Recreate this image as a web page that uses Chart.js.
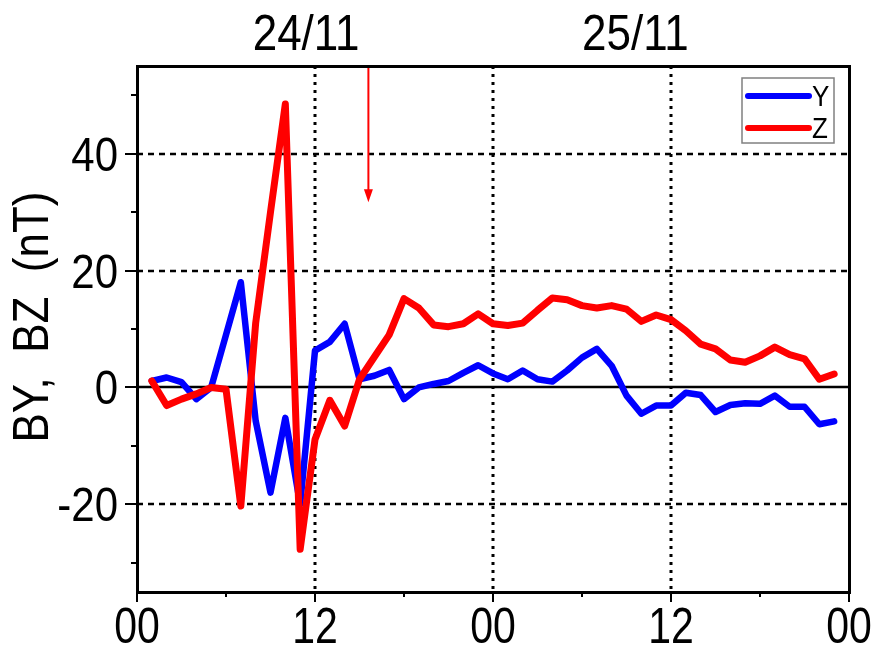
<!DOCTYPE html>
<html>
<head>
<meta charset="utf-8">
<script src="https://cdn.jsdelivr.net/npm/chart.js@4.4.1/dist/chart.umd.min.js"></script>
<style>
  html, body { margin: 0; padding: 0; background: #fff; }
  #wrap { width: 871px; height: 646px; }
</style>
</head>
<body>
<div id="wrap"><canvas id="chart" width="871" height="646"></canvas></div>
<script>
// hours since 00 UT on 24/11
const hours = [1, 2, 3, 4, 5, 6, 7, 8, 9, 10, 11, 12, 13, 14, 15, 16, 17, 18, 19, 20, 21, 22, 23, 24,
               25, 26, 27, 28, 29, 30, 31, 32, 33, 34, 35, 36, 37, 38, 39, 40, 41, 42, 43, 44, 45, 46, 47];

const byValues = [1.1, 1.7, 0.9, -2.0, 0, 9, 18, -5.7, -18, -5.2, -20, 6.3, 7.8, 10.9, 1.4, 2.0, 3.0, -2.0, 0, 0.6,
                  1.1, 2.5, 3.8, 2.4, 1.4, 2.9, 1.4, 1.0, 2.9, 5.1, 6.6, 3.7, -1.4, -4.5, -3.1, -3.1, -0.9, -1.3,
                  -4.2, -3.0, -2.7, -2.8, -1.4, -3.3, -3.3, -6.3, -5.8];

const bzValues = [1.1, -3.1, -2.0, -1.1, 0, -0.3, -20.3, 11, 30, 48.5, -27.7, -8.9, -2.2, -6.6, 1.4, 5.2, 9.0, 15.2,
                  13.6, 10.7, 10.4, 10.9, 12.6, 10.9, 10.6, 11.0, 13.2, 15.3, 15.0, 14.0, 13.6, 14.0, 13.4, 11.3,
                  12.4, 11.6, 9.7, 7.4, 6.6, 4.7, 4.3, 5.4, 6.9, 5.6, 4.9, 1.4, 2.3];

const xMajorTicks = [0, 12, 24, 36, 48];
const xMinorTicks = [6, 18, 30, 42];
const xTickLabels = ['00', '12', '00', '12', '00'];
const yMajorTicks = [-20, 0, 20, 40];
const yMinorTicks = [-30, -10, 10, 30, 50];
const yTickLabels = ['-20', '0', '20', '40'];
const dayLabels = ['24/11', '25/11'];
const dayLabelHours = [11.4, 33.6];
const arrowHour = 15.6;
const arrowTip = 31.7;

const FONT = '"Liberation Sans", Arial, sans-serif';

function toPoints(xs, ys) {
    return xs.map((x, i) => ({ x: x, y: ys[i] }));
}

function drawText(ctx, text, x, y, size, align, baseline, sy) {
    ctx.save();
    ctx.translate(x, y);
    ctx.scale(1, sy);
    ctx.font = size + 'px ' + FONT;
    ctx.fillStyle = '#000';
    ctx.textAlign = align;
    ctx.textBaseline = baseline;
    ctx.fillText(text, 0, 0);
    ctx.restore();
}

const framePlugin = {
    id: 'frame',
    beforeDatasetsDraw(chart) {
        const { ctx, chartArea: a, scales: { x, y } } = chart;
        ctx.save();
        ctx.strokeStyle = '#000';
        // vertical dotted grid
        ctx.lineWidth = 3;
        ctx.setLineDash([3, 5]);
        [12, 24, 36].forEach(v => {
            const px = Math.round(x.getPixelForValue(v));
            ctx.beginPath();
            ctx.moveTo(px, a.top);
            ctx.lineTo(px, a.bottom);
            ctx.stroke();
        });
        // horizontal dashed grid
        ctx.lineWidth = 2.5;
        ctx.setLineDash([6, 5]);
        [-20, 20, 40].forEach(v => {
            const py = Math.round(y.getPixelForValue(v));
            ctx.beginPath();
            ctx.moveTo(a.left, py);
            ctx.lineTo(a.right, py);
            ctx.stroke();
        });
        // zero line
        ctx.setLineDash([]);
        ctx.lineWidth = 2.5;
        const py0 = Math.round(y.getPixelForValue(0));
        ctx.beginPath();
        ctx.moveTo(a.left, py0);
        ctx.lineTo(a.right, py0);
        ctx.stroke();
        ctx.restore();
    },
    afterDraw(chart) {
        const { ctx, chartArea: a, scales: { x, y } } = chart;
        ctx.save();
        ctx.setLineDash([]);

        // arrow
        const ax = x.getPixelForValue(arrowHour);
        const tipY = y.getPixelForValue(arrowTip);
        ctx.strokeStyle = '#ff0000';
        ctx.fillStyle = '#ff0000';
        ctx.lineWidth = 2;
        ctx.beginPath();
        ctx.moveTo(ax, a.top);
        ctx.lineTo(ax, tipY - 8);
        ctx.stroke();
        ctx.beginPath();
        ctx.moveTo(ax - 4.5, tipY - 13);
        ctx.lineTo(ax + 4.5, tipY - 13);
        ctx.lineTo(ax, tipY);
        ctx.closePath();
        ctx.fill();

        // frame, as filled bars so every edge is equally heavy
        const L = Math.round(a.left), R = Math.round(a.right), T = Math.round(a.top), B = Math.round(a.bottom);
        ctx.fillStyle = '#000';
        ctx.fillRect(L - 1, T - 1, R - L + 3, 3);
        ctx.fillRect(L - 1, B - 1, R - L + 3, 3);
        ctx.fillRect(L - 1, T - 1, 3, B - T + 3);
        ctx.fillRect(R - 1, T - 1, 3, B - T + 3);

        // ticks
        ctx.strokeStyle = '#000';
        ctx.lineWidth = 2;
        xMajorTicks.forEach(v => {
            const px = Math.round(x.getPixelForValue(v));
            ctx.beginPath(); ctx.moveTo(px, B); ctx.lineTo(px, B + 10); ctx.stroke();
        });
        xMinorTicks.forEach(v => {
            const px = Math.round(x.getPixelForValue(v));
            ctx.beginPath(); ctx.moveTo(px, B); ctx.lineTo(px, B + 5); ctx.stroke();
        });
        yMajorTicks.forEach(v => {
            const py = Math.round(y.getPixelForValue(v));
            ctx.beginPath(); ctx.moveTo(L, py); ctx.lineTo(L - 12, py); ctx.stroke();
        });
        yMinorTicks.forEach(v => {
            const py = Math.round(y.getPixelForValue(v));
            ctx.beginPath(); ctx.moveTo(L, py); ctx.lineTo(L - 6, py); ctx.stroke();
        });

        // tick labels
        xMajorTicks.forEach((v, i) => {
            drawText(ctx, xTickLabels[i], x.getPixelForValue(v), B + 51, 41, 'center', 'alphabetic', 1.22);
        });
        yMajorTicks.forEach((v, i) => {
            drawText(ctx, yTickLabels[i], L - 19, y.getPixelForValue(v) + 17, 42, 'right', 'alphabetic', 1.15);
        });
        dayLabels.forEach((t, i) => {
            drawText(ctx, t, x.getPixelForValue(dayLabelHours[i]), 50, 44, 'center', 'alphabetic', 1.15);
        });

        // y title
        ctx.save();
        ctx.translate(48, (T + B) / 2 - 12);
        ctx.rotate(-Math.PI / 2);
        ctx.scale(1, 1.12);
        ctx.font = '44px ' + FONT;
        ctx.fillStyle = '#000';
        ctx.textAlign = 'center';
        ctx.textBaseline = 'alphabetic';
        ctx.fillText('BY,  BZ  (nT)', 0, 0);
        ctx.restore();

        // legend
        const lx = R - 107, ly = T + 12;
        ctx.fillStyle = '#fff';
        ctx.fillRect(lx, ly, 92, 65);
        ctx.strokeStyle = '#808080';
        ctx.lineWidth = 1.5;
        ctx.strokeRect(lx, ly, 92, 65);
        ctx.lineCap = 'round';
        ctx.lineWidth = 6;
        chart.data.datasets.slice().reverse().forEach((ds, i) => {
            const yy = ly + 18 + i * 32;
            ctx.strokeStyle = ds.borderColor;
            ctx.beginPath(); ctx.moveTo(lx + 6, yy); ctx.lineTo(lx + 67, yy); ctx.stroke();
            drawText(ctx, ds.label, lx + 70, yy + 10, 26, 'left', 'alphabetic', 1.15);
        });

        ctx.restore();
    }
};

new Chart(document.getElementById('chart'), {
    type: 'line',
    data: {
        datasets: [
            {
                label: 'Z',
                data: toPoints(hours, bzValues),
                borderColor: '#ff0000',
                borderWidth: 7,
                pointRadius: 0,
                tension: 0,
                borderJoinStyle: 'round',
                borderCapStyle: 'round',
                order: 0
            },
            {
                label: 'Y',
                data: toPoints(hours, byValues),
                borderColor: '#0000ff',
                borderWidth: 6.5,
                pointRadius: 0,
                tension: 0,
                borderJoinStyle: 'round',
                borderCapStyle: 'round',
                order: 1
            }
        ]
    },
    options: {
        responsive: false,
        animation: false,
        devicePixelRatio: 1,
        layout: { padding: { left: 137, right: 22, top: 66, bottom: 54 } },
        plugins: { legend: { display: false }, tooltip: { enabled: false } },
        scales: {
            x: { type: 'linear', min: 0, max: 48, display: false },
            y: { type: 'linear', min: -35, max: 55, display: false }
        }
    },
    plugins: [framePlugin]
});
</script>
</body>
</html>
